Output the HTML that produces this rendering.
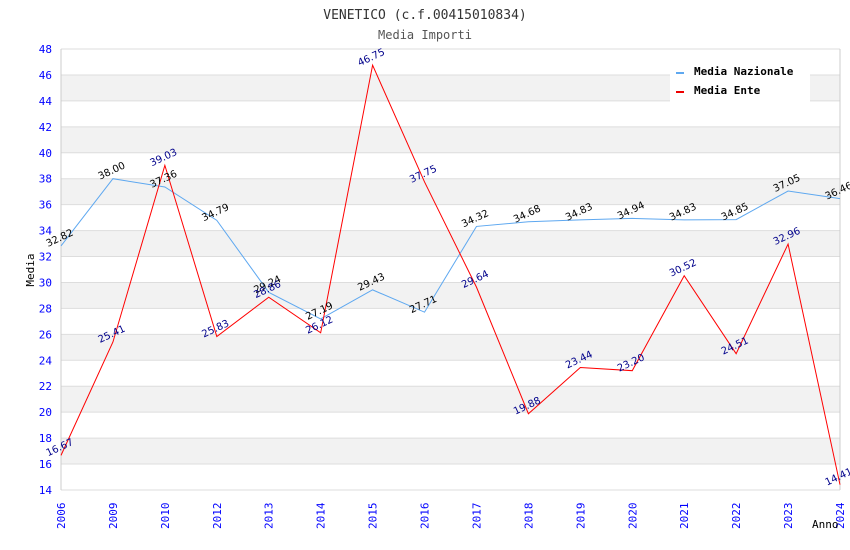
<!DOCTYPE html>
<html><head><meta charset="utf-8"><style>
body{margin:0;background:#fff}
svg{display:block;font-family:"DejaVu Sans Mono","Liberation Mono",monospace}
</style></head><body>
<svg id="chart" width="850" height="550">
<text x="425" y="19" text-anchor="middle" font-size="13" fill="#333">VENETICO (c.f.00415010834)</text>
<text x="425" y="39" text-anchor="middle" font-size="12" fill="#555">Media Importi</text>
<g id="grid"></g>
<g id="series"></g>
<g id="labels"></g>
<text x="34" y="270" font-size="11" fill="#000" transform="rotate(-90 34 270)" text-anchor="middle">Media</text>
<text x="812" y="528" font-size="11" fill="#000">Anno</text>
<g>
<rect x="670" y="60" width="140" height="42" fill="#fff"/>
<rect x="676" y="72" width="8" height="2" fill="#5ea8f0"/>
<text x="694" y="75" font-size="11" font-weight="bold" fill="#000">Media Nazionale</text>
<rect x="676" y="91" width="8" height="2" fill="#e00"/>
<text x="694" y="94" font-size="11" font-weight="bold" fill="#000">Media Ente</text>
</g>
</svg>
<script>
const categories=["2006","2009","2010","2012","2013","2014","2015","2016","2017","2018","2019","2020","2021","2022","2023","2024"];
const nazionale=[32.82,38.00,37.36,34.79,29.24,27.19,29.43,27.71,34.32,34.68,34.83,34.94,34.83,34.85,37.05,36.46];
const ente=[16.67,25.41,39.03,25.83,28.86,26.12,46.75,37.75,29.64,19.88,23.44,23.20,30.52,24.51,32.96,14.41];
const yTicks=[14,16,18,20,22,24,26,28,30,32,34,36,38,40,42,44,46,48];
const NS="http://www.w3.org/2000/svg";
const X0=61,X1=840,Y0=490,Y1=49,YMIN=14,YMAX=48;
function xs(i){return X0+(X1-X0)*i/(categories.length-1);}
function ys(v){return Y0-(v-YMIN)/(YMAX-YMIN)*(Y0-Y1);}
function mk(tag,attrs,parent){const e=document.createElementNS(NS,tag);for(const k in attrs)e.setAttribute(k,attrs[k]);parent.appendChild(e);return e;}
const grid=document.getElementById('grid');
for(let i=0;i<yTicks.length-1;i++){
  const a=yTicks[i],b=yTicks[i+1];
  if(Math.round(a)%4===0 && a>=16 && a<=44){
    const r=mk('rect',{x:X0,y:ys(b),width:X1-X0,height:ys(a)-ys(b),fill:'#f2f2f2'},grid);
    
    
  }
}
yTicks.forEach(t=>{
  const l=mk('line',{x1:X0,x2:X1,y1:ys(t),y2:ys(t),stroke:'#ddd','stroke-width':1},grid);
  
  
  const tx=mk('text',{x:52,y:ys(t)+4,'text-anchor':'end','font-size':11,fill:'#00f'},grid);
  tx.textContent=t;
  
  
});
mk('line',{x1:X0,x2:X0,y1:Y1,y2:Y0,stroke:'#ccc'},grid);
mk('line',{x1:X1,x2:X1,y1:Y1,y2:Y0,stroke:'#ccc'},grid);
categories.forEach((c,i)=>{
  const x=xs(i);
  const tx=mk('text',{x:x+4,y:529,'font-size':11,fill:'#00f',transform:`rotate(-90 ${x+4} 529)`},grid);
  tx.setAttribute('text-anchor','start');
  tx.textContent=c;
  
  
});
const series=document.getElementById('series'),labels=document.getElementById('labels');
function draw(vals,color,lblColor,name){
  const p=mk('polyline',{points:vals.map((v,i)=>xs(i)+','+ys(v)).join(' '),fill:'none',stroke:color,'stroke-width':1},series);
  
  
  vals.forEach((v,i)=>{
    const x=xs(i),y=ys(v)-5;
    const t=mk('text',{x:x,y:y,'text-anchor':'middle','font-size':10,'font-family':'"DejaVu Sans","Liberation Sans",sans-serif',fill:lblColor,transform:`rotate(-25 ${x} ${y})`},labels);
    t.textContent=v.toFixed(2);
    
    
  });
}
draw(nazionale,'#5ea8f0','#000','nazionale');
draw(ente,'#f00','#00008b','ente');
</script>
</body></html>
